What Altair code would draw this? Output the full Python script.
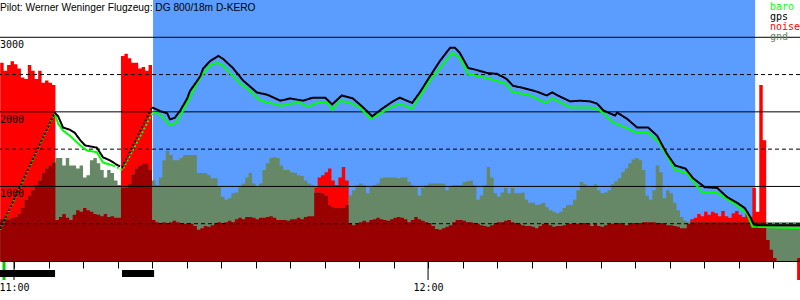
import altair as alt
import pandas as pd

# ---------------- data ----------------
# time = minutes after 11:00, altitudes in metres
SAMPLE_START = -2.0
SAMPLE_STEP = 0.5

noise = [
    2660, 2550, 2630, 2680, 2640, 2580, 2460, 2440, 2630, 2550,
    2440, 2550, 2390, 2420, 2390, 2360, 550, 590, 630, 580,
    550, 620, 680, 660, 710, 680, 660, 630, 620, 600,
    630, 590, 600, 580, 580, 2750, 2780, 2720, 2660, 2660,
    2580, 2600, 2550, 2630, 550, 520, 510, 520, 500, 520,
    540, 520, 510, 500, 510, 500, 470, 420, 440, 470,
    460, 480, 510, 520, 510, 520, 540, 520, 560, 580,
    560, 590, 590, 580, 560, 580, 580, 590, 600, 580,
    550, 550, 550, 540, 560, 560, 580, 560, 590, 600,
    600, 990, 1120, 1150, 1190, 1240, 1080, 1020, 1120, 1260,
    1080, 510, 480, 500, 520, 540, 520, 550, 560, 580,
    560, 550, 540, 560, 580, 590, 580, 560, 520, 550,
    590, 560, 540, 520, 510, 470, 430, 420, 440, 460,
    480, 520, 550, 550, 540, 520, 520, 510, 500, 480,
    470, 460, 480, 510, 520, 520, 540, 550, 520, 510,
    500, 480, 470, 470, 460, 440, 470, 500, 510, 480,
    460, 470, 470, 480, 500, 500, 510, 500, 510, 510,
    500, 470, 500, 470, 460, 480, 500, 500, 510, 510,
    500, 480, 500, 510, 510, 510, 520, 520, 520, 520,
    510, 510, 500, 480, 480, 470, 460, 440, 440, 500,
    560, 580, 630, 600, 660, 620, 660, 640, 600, 670,
    600, 580, 640, 670, 620, 590, 660, 590, 980, 660,
    2360, 1620, 280, 150, 40, 0, 0, 0, 0, 0,
    0, 40,
]

gnd = [
    560, 580, 550, 580, 590, 630, 710, 820, 880, 950,
    1020, 1080, 1180, 1240, 1280, 1320, 1380, 1380, 1280, 1380,
    1280, 1280, 1240, 1280, 1120, 1150, 1350, 1380, 1310, 1220,
    1120, 1220, 1180, 1080, 1020, 980, 980, 1030, 1160, 1240,
    1280, 1310, 1310, 1220, 1080, 1020, 1120, 1350, 1480, 1420,
    1350, 1350, 1380, 1420, 1420, 1420, 1420, 1180, 1180, 1180,
    1150, 1110, 1110, 990, 860, 820, 840, 910, 920, 990,
    1040, 1120, 1180, 1040, 990, 1040, 1220, 1310, 1380, 1390,
    1380, 1280, 1220, 1220, 1190, 1180, 1150, 1140, 1080, 1040,
    1020, 920, 920, 910, 880, 750, 720, 710, 710, 710,
    750, 880, 950, 1020, 1040, 1020, 910, 990, 1020, 1040,
    1110, 1120, 1120, 1120, 1120, 1110, 1120, 1120, 1060, 1020,
    990, 880, 980, 1020, 1040, 1040, 1040, 1040, 1040, 950,
    990, 1020, 1020, 1020, 1060, 1070, 1080, 1020, 820, 880,
    1020, 1260, 1120, 910, 860, 920, 980, 910, 980, 910,
    910, 920, 820, 780, 780, 750, 760, 780, 720, 680,
    660, 640, 660, 710, 750, 750, 820, 950, 1060, 1030,
    990, 1000, 1030, 950, 910, 920, 950, 1030, 1070, 1110,
    1190, 1240, 1310, 1360, 1380, 1350, 1220, 880, 820, 950,
    1280, 1190, 840, 950, 910, 780, 680, 590, 540, 520,
    520, 520, 520, 520, 520, 520, 520, 520, 520, 520,
    520, 520, 520, 520, 520, 520, 520, 520, 520, 520,
    520, 520, 520, 520, 520, 520, 520, 520, 520, 520,
    520, 520,
]

gps_t = [-2.0, 5.9, 6.4, 7.1, 8.1, 8.8, 9.6, 10.3, 12.0, 12.9, 13.9, 15.1, 15.7,
         20.0, 21.2, 22.2, 22.6, 23.3, 24.1, 25.1, 25.5, 26.5, 27.0, 27.4, 28.4,
         29.6, 30.3, 31.7, 33.2, 35.2, 36.7, 38.6, 40.0, 41.9, 43.3, 45.1, 46.1,
         47.5, 49.1, 50.6, 51.9, 53.3, 54.9, 55.9, 57.7, 58.8, 60.3, 61.7, 63.2,
         63.9, 64.6, 65.8, 67.1, 68.6, 70.0, 71.4, 72.3, 73.8, 75.8, 77.2, 78.0,
         78.8, 80.6, 82.0, 83.5, 84.5, 85.4, 87.1, 87.4, 88.8, 90.3, 91.9, 93.2,
         94.6, 95.8, 97.3, 98.4, 100.1, 101.9, 103.3, 104.8, 105.9, 106.7, 107.1,
         107.5, 113.9]
gps_alt = [430, 1990, 1940, 1790, 1760, 1720, 1620, 1550, 1520, 1390, 1350, 1280, 1260,
           2060, 2010, 1980, 1900, 1920, 2020, 2180, 2280, 2410, 2480, 2580, 2680,
           2750, 2710, 2590, 2420, 2260, 2230, 2150, 2180, 2150, 2190, 2190, 2100,
           2220, 2180, 2060, 1940, 2040, 2140, 2190, 2120, 2260, 2480, 2680, 2860,
           2860, 2790, 2590, 2560, 2520, 2510, 2440, 2350, 2320, 2270, 2220, 2260,
           2220, 2140, 2150, 2140, 2110, 2020, 1950, 1990, 1910, 1790, 1790, 1680,
           1440, 1280, 1240, 1110, 990, 980, 860, 780, 710, 590, 510,
           480, 480]

baro_t = [-2.0, 5.9, 6.4, 7.1, 8.1, 9.6, 10.6, 12.0, 12.9, 14.4, 15.7,
          20.1, 20.9, 21.6, 22.6, 23.6, 24.3, 25.5, 26.5, 27.4, 28.4, 29.4, 30.3,
          31.3, 32.8, 34.2, 35.7, 37.1, 38.6, 40.0, 41.4, 42.6, 43.9, 45.4, 46.1,
          47.3, 48.7, 50.1, 51.6, 52.6, 54.1, 55.9, 57.7, 60.3, 63.5, 64.6, 65.8,
          69.0, 71.2, 72.2, 74.8, 77.0, 78.0, 80.6, 83.5, 84.9, 86.8, 90.3, 91.9,
          93.6, 95.8, 97.5, 99.7, 101.9, 104.2, 106.2, 107.0, 113.9]
baro_alt = [420, 1980, 1840, 1750, 1680, 1550, 1480, 1460, 1320, 1280, 1220,
            1990, 1980, 1920, 1820, 1860, 1980, 2190, 2380, 2510, 2620, 2660, 2620,
            2520, 2380, 2280, 2150, 2120, 2080, 2110, 2120, 2070, 2120, 2120, 2030,
            2150, 2120, 2060, 1910, 1950, 2040, 2110, 2040, 2420, 2790, 2720, 2510,
            2440, 2380, 2270, 2220, 2120, 2180, 2060, 2060, 2020, 1860, 1720, 1720,
            1580, 1220, 1180, 920, 910, 780, 640, 460, 440]

engine_on = [-2.03, 15.65]
engine_off = [5.95, 20.3]
task_start = [20.15]
task_end = [107.4]
marker_t = [-1.45, 113.7]
marker_color = ["#00cc00", "#ff0000"]

solid_levels = [1000, 2000, 3000]
dashed_levels = [500, 1500, 2500]
hour_t = [0, 60]
hour_label = ["11:00", "12:00"]
tick_every = 5

legend_names = ["baro", "gps", "noise", "gnd"]
legend_colors = ["#00ff00", "#000000", "#ff0000", "#668866"]
title_text = "Pilot: Werner Weninger Flugzeug: DG 800/18m D-KERO"

X_DOMAIN = [-2.03, 113.9]
Y_DOMAIN = [0, 3500]
BLUE = "#5a9cff"
GND = "#668866"
DARK = "#990000"
RED = "#ff0000"
W, H = 800, 261

# ---------------- frames ----------------
n = len(noise)
ts = [SAMPLE_START + SAMPLE_STEP * i for i in range(n)] + [SAMPLE_START + SAMPLE_STEP * n]
bins = pd.DataFrame({"t": ts, "noise": noise + [noise[-1]], "gnd": gnd + [gnd[-1]]})
bins["low"] = bins[["noise", "gnd"]].min(axis=1)


def in_engine(t):
    return any(s <= t <= e for s, e in zip(engine_on, engine_off))


def line_rows(tt, vv, name):
    rows, seg, prev, prevpt = [], -1, None, None
    for t, v in zip(tt, vv):
        kind = "climb" if in_engine(t) else "glide"
        if kind != prev:
            seg += 1
            if prevpt is not None:
                rows.append(dict(t=prevpt[0], alt=prevpt[1], seg=f"{name}{seg}", kind=kind))
        rows.append(dict(t=t, alt=v, seg=f"{name}{seg}", kind=kind))
        prev, prevpt = kind, (t, v)
    return pd.DataFrame(rows)


gps_df = line_rows(gps_t, gps_alt, "gps")
baro_df = line_rows(baro_t, baro_alt, "baro")

xs = alt.Scale(domain=X_DOMAIN, nice=False, zero=False)
ys = alt.Scale(domain=Y_DOMAIN, nice=False, zero=False)

label_expr = " : ".join(
    f"datum.value == {t} ? '{l}'" for t, l in zip(hour_t, hour_label)
) + " : ''"
xaxis = alt.Axis(
    values=list(range(0, int(X_DOMAIN[1]) + 1, tick_every)),
    tickSize=7, tickColor="black", tickWidth=1,
    domainColor="black", domainWidth=1,
    labelExpr=label_expr, labelFont="DejaVu Sans Mono", labelFontSize=10,
    labelColor="black", labelPadding=14, labelBaseline="top",
    labelFlush=False, labelOverlap=False, grid=False, title=None, zindex=1,
)


def X(field):
    return alt.X(field, scale=xs, axis=xaxis)


def Y(field):
    return alt.Y(field, scale=ys, axis=None)


bg = alt.Chart(pd.DataFrame({"s": task_start, "e": task_end})).mark_rect(color=BLUE).encode(
    x=X("s:Q"), x2="e:Q", y=alt.value(0), y2=alt.value(H)
)

base = alt.Chart(bins)
noise_area = base.mark_area(color=RED, interpolate="step-after").encode(x=X("t:Q"), y=Y("noise:Q"))
gnd_area = base.mark_area(color=GND, interpolate="step-after").encode(x=X("t:Q"), y=Y("gnd:Q"))
low_area = base.mark_area(color=DARK, interpolate="step-after").encode(x=X("t:Q"), y=Y("low:Q"))

solid = alt.Chart(pd.DataFrame({"lv": solid_levels})).mark_rule(color="black", strokeWidth=1).encode(
    y=Y("lv:Q")
)
dashed = alt.Chart(pd.DataFrame({"lv": dashed_levels})).mark_rule(
    color="black", strokeWidth=1, strokeDash=[4, 3]
).encode(y=Y("lv:Q"))

dash_scale = alt.Scale(domain=["climb", "glide"], range=[[2, 2], [1, 0]])


def line_layer(df, color):
    return alt.Chart(df).mark_line(color=color, strokeWidth=2).encode(
        x=X("t:Q"),
        y=Y("alt:Q"),
        detail="seg:N",
        strokeDash=alt.StrokeDash("kind:N", scale=dash_scale, legend=None),
    )


gps_line = line_layer(gps_df, "black")
baro_line = line_layer(baro_df, "#00ff00")

ylabels = alt.Chart(pd.DataFrame({"lv": solid_levels})).mark_text(
    align="left", baseline="alphabetic", dy=11, font="DejaVu Sans Mono", fontSize=10, color="black"
).encode(x=alt.value(0), y=Y("lv:Q"), text=alt.Text("lv:Q", format="d"))

hour_ticks = alt.Chart(pd.DataFrame({"t": hour_t})).mark_rule(color="black", strokeWidth=1).encode(
    x=X("t:Q"), y=alt.value(H), y2=alt.value(280)
)

markers = alt.Chart(pd.DataFrame({"t": marker_t, "c": marker_color})).mark_rule(strokeWidth=3).encode(
    x=X("t:Q"), y=alt.value(H + 1), y2=alt.value(280),
    color=alt.Color("c:N", scale=None),
)

engine = alt.Chart(pd.DataFrame({"s": engine_on, "e": engine_off})).mark_rect(color="black").encode(
    x=X("s:Q"), x2="e:Q", y=alt.value(270), y2=alt.value(277)
)

title = alt.Chart(pd.DataFrame({"txt": [title_text]})).mark_text(
    align="left", baseline="alphabetic", font="Liberation Sans", fontSize=10.2, color="black"
).encode(x=alt.value(0), y=alt.value(11), text="txt:N")

legend_layers = []
for k, (nm, col) in enumerate(zip(legend_names, legend_colors)):
    legend_layers.append(
        alt.Chart(pd.DataFrame({"txt": [nm]})).mark_text(
            align="left", baseline="alphabetic", font="DejaVu Sans Mono", fontSize=10, color=col
        ).encode(x=alt.value(770), y=alt.value(10 + 10 * k), text="txt:N")
    )

chart = alt.layer(
    bg, noise_area, gnd_area, low_area, solid, dashed, baro_line, gps_line,
    ylabels, hour_ticks, markers, engine, title, *legend_layers
).properties(
    width=W, height=H, background="white",
    padding={"left": 0, "top": 0, "right": 0, "bottom": 300 - H},
    autosize=alt.AutoSizeParams(type="none"),
).configure_view(stroke=None)

chart.save("out.html", embed_options={"renderer": "svg", "actions": False})
